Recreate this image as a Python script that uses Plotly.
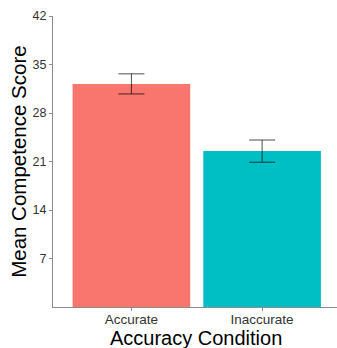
import plotly.graph_objects as go

categories = ["Accurate", "Inaccurate"]
means = [32.2, 22.5]
err_plus = [1.45, 1.6]
err_minus = [1.45, 1.6]
colors = ["#F8766D", "#00BFC4"]
y_ticks = [7, 14, 21, 28, 35, 42]

fig = go.Figure()
fig.add_trace(go.Bar(
    x=categories, y=means,
    marker=dict(color=colors, line=dict(width=0)),
    width=0.9,
    error_y=dict(type="data", array=err_plus, arrayminus=err_minus,
                 color="rgba(0,0,0,0.7)", thickness=1, width=13),
    showlegend=False,
))

fig.update_layout(
    width=337, height=348,
    margin=dict(l=53, r=0, t=15.5, b=40.5),
    plot_bgcolor="white", paper_bgcolor="white",
    font=dict(family="Liberation Sans, Arial, sans-serif", color="black"),
    xaxis=dict(
        type="category", range=[-0.6, 1.573],
        showline=True, linecolor="#8c8c8c", linewidth=1,
        ticks="outside", ticklen=3, tickcolor="#8c8c8c",
        tickfont=dict(size=13.5, color="#333333"),
        ticklabelstandoff=-3,
        showgrid=False, zeroline=False,
    ),
    yaxis=dict(
        range=[0, 42], tickvals=y_ticks,
        showline=True, linecolor="#8c8c8c", linewidth=1,
        ticks="outside", ticklen=3, tickcolor="#8c8c8c",
        tickfont=dict(size=12.5, color="#333333"),
        showgrid=False, zeroline=False,
    ),
    annotations=[
        dict(text="Accuracy Condition", xref="paper", yref="paper",
             x=0.505, y=-0.063, xanchor="center", yanchor="top",
             showarrow=False, font=dict(size=20, color="black")),
        dict(text="Mean Competence Score", xref="paper", yref="paper",
             x=-0.122, y=0.5, xanchor="center", yanchor="middle", textangle=-90,
             showarrow=False, font=dict(size=20.5, color="black")),
    ],
)

fig.write_html("out.html")
